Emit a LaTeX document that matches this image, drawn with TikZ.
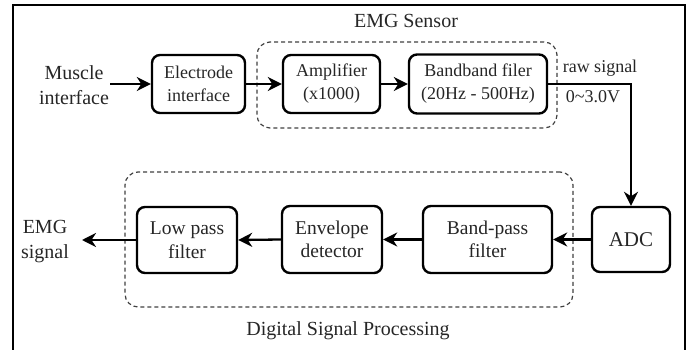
\documentclass[tikz,border=0pt]{standalone}
\usepackage{fontspec}
\setmainfont{Liberation Serif}
\newfontfamily\tnr{Liberation Serif}
\usetikzlibrary{arrows.meta}
\tikzset{
  blk/.style={draw, line width=2.4pt, rounded corners=8pt, align=center, inner sep=0pt, text=black!85},
  topfont/.style={font=\tnr\fontsize{18}{23}\selectfont},
  botfont/.style={font=\tnr\fontsize{19.5}{23.5}\selectfont},
  lbl/.style={align=center, inner sep=1pt, font=\tnr\fontsize{20}{25}\selectfont, text=black!85},
  smalllbl/.style={align=center, inner sep=1pt, font=\tnr\fontsize{18}{22}\selectfont, text=black!85},
  arr/.style={-{Stealth[length=14pt,width=14pt,inset=4.5pt]}, line width=2.3pt},
  grp/.style={draw, black!75, line width=1.2pt, dash pattern=on 4pt off 3pt, rounded corners=13pt, inner sep=0pt},
}
\begin{document}
\begin{tikzpicture}[x=1pt,y=-1pt]
\useasboundingbox (0,0) rectangle (691,350);
% outer frame (open at the bottom)
\draw[line width=1.8pt] (13,350) -- (13,5) -- (685,5) -- (685,350);

% groups
\node[grp, minimum width=300pt, minimum height=86pt] (sensor) at (407,85) {};
\node[grp, minimum width=448pt, minimum height=135pt] (dsp) at (349,239.5) {};
\node[lbl] (sensorlbl) at (406,21) {EMG Sensor};
\node[lbl] (dsplbl) at (348,331) {Digital Signal Processing};

% top row
\node[lbl] (muscle) at (74,85.5) {Muscle\\interface};
\node[blk, topfont, minimum width=93pt, minimum height=58pt] (elec) at (198.5,84) {Electrode\\interface};
\node[blk, topfont, minimum width=97pt, minimum height=58pt] (amp) at (331.5,84) {Amplifier\\(x1000)};
\node[blk, topfont, minimum width=138pt, minimum height=59pt] (band) at (478,84) {Bandband filer\\(20Hz - 500Hz)};
\node[smalllbl] (raw) at (600,68) {raw signal};
\node[smalllbl] (volt) at (593,97) {0\char"007E 3.0V};

% bottom row
\node[blk, font=\tnr\fontsize{21}{25}\selectfont, minimum width=78pt, minimum height=65pt] (adc) at (631,239.5) {ADC};
\node[blk, botfont, minimum width=129pt, minimum height=67pt] (bpf) at (487.5,239.5) {Band-pass\\filter};
\node[blk, botfont, minimum width=100pt, minimum height=67pt] (env) at (332,239.5) {Envelope\\detector};
\node[blk, botfont, minimum width=100pt, minimum height=66pt] (lpf) at (187,240) {Low pass\\filter};
\node[lbl] (emg) at (45,242) {EMG\\signal};
\coordinate (emgtip) at (82,240);

% connectors
\draw[arr] (muscle.east |- elec.west) -- (elec.west);
\draw[arr] (elec.east) -- (amp.west);
\draw[arr] (amp.east) -- (band.west);
\draw[arr] (band.east) -| (adc.north);
\draw[arr] (adc.west) -- (bpf.east);
\draw[arr] (bpf.west) -- (env.east);
\draw[arr] (env.west) -- (lpf.east);
\draw[arr] (lpf.west) -- (emgtip);
\end{tikzpicture}
\end{document}
